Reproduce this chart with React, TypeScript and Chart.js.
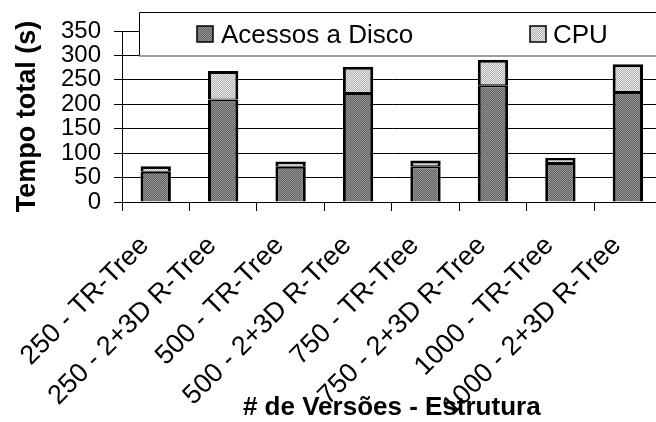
import { useEffect, useRef } from "react";
import { Chart, registerables } from "chart.js";

Chart.register(...registerables);

// Categories: number of versions - index structure
const categories = [
  "250 - TR-Tree",
  "250 - 2+3D R-Tree",
  "500 - TR-Tree",
  "500 - 2+3D R-Tree",
  "750 - TR-Tree",
  "750 - 2+3D R-Tree",
  "1000 - TR-Tree",
  "1000 - 2+3D R-Tree",
];

// Total time in seconds, split into disk access and CPU
const diskAccess = [62, 210, 72, 223, 73, 239, 80, 225];
const cpuTime = [11, 58, 11, 54, 12, 52, 10, 57];

const seriesLabels = ["Acessos a Disco", "CPU"];
const yMin = 0;
const yMax = 350;
const yStep = 50;

const FONT = "'Liberation Sans', Arial, Helvetica, sans-serif";

// Small two-tone checker used as a halftone-like fill
function dither(a: string, b: string): CanvasPattern | string {
  const c = document.createElement("canvas");
  c.width = 2;
  c.height = 2;
  const g = c.getContext("2d");
  if (!g) return a;
  g.fillStyle = a;
  g.fillRect(0, 0, 2, 2);
  g.fillStyle = b;
  g.fillRect(0, 0, 1, 1);
  g.fillRect(1, 1, 1, 1);
  return g.createPattern(c, "repeat") || a;
}

// Boxed legend that sits over the top of the plot
const boxedLegend = {
  id: "boxedLegend",
  afterDraw(chart: any) {
    const ctx = chart.ctx as CanvasRenderingContext2D;
    const x0 = 139;
    const y0 = 12;
    const h = 44;
    const x1 = chart.width + 2;
    ctx.save();
    ctx.fillStyle = "#fff";
    ctx.fillRect(x0, y0, x1 - x0, h);
    ctx.strokeStyle = "#000";
    ctx.lineWidth = 1;
    ctx.beginPath();
    ctx.moveTo(x0 + 0.5, y0 + h);
    ctx.lineTo(x0 + 0.5, y0 + 0.5);
    ctx.lineTo(x1, y0 + 0.5);
    ctx.stroke();
    ctx.strokeStyle = "#808080";
    ctx.lineWidth = 1.5;
    ctx.beginPath();
    ctx.moveTo(x0, y0 + h);
    ctx.lineTo(x1, y0 + h);
    ctx.stroke();

    const items = [
      { sx: 197, tx: 221 },
      { sx: 530, tx: 553 },
    ];
    ctx.font = `26px ${FONT}`;
    ctx.textBaseline = "alphabetic";
    ctx.textAlign = "left";
    chart.data.datasets.forEach((ds: any, i: number) => {
      const it = items[i];
      ctx.fillStyle = ds.backgroundColor;
      ctx.fillRect(it.sx, 26, 16, 16);
      ctx.strokeStyle = "#000";
      ctx.lineWidth = 1.5;
      ctx.strokeRect(it.sx, 26, 16, 16);
      ctx.fillStyle = "#000";
      ctx.fillText(ds.label, it.tx, 43);
    });
    ctx.restore();
  },
};

export default function App() {
  const canvasRef = useRef<HTMLCanvasElement | null>(null);

  useEffect(() => {
    const canvas = canvasRef.current;
    if (!canvas) return;
    Chart.defaults.color = "#000";
    Chart.defaults.font.family = FONT;

    const darkFill = dither("#606060", "#969696");
    const lightFill = dither("#b0b0b0", "#ebebeb");

    const chart = new Chart(canvas, {
      type: "bar",
      data: {
        labels: categories,
        datasets: [
          {
            label: seriesLabels[0],
            data: diskAccess,
            backgroundColor: darkFill as any,
            borderColor: "#000",
            borderWidth: { top: 2, left: 3, right: 3, bottom: 0 },
            borderSkipped: false,
            barPercentage: 0.45,
            categoryPercentage: 1,
          },
          {
            label: seriesLabels[1],
            data: cpuTime,
            backgroundColor: lightFill as any,
            borderColor: "#000",
            borderWidth: { top: 3, left: 3, right: 3, bottom: 1 },
            borderSkipped: false,
            barPercentage: 0.45,
            categoryPercentage: 1,
          },
        ],
      },
      plugins: [boxedLegend],
      options: {
        animation: false,
        responsive: false,
        devicePixelRatio: 1,
        layout: { padding: { top: 31, left: 0, right: 4, bottom: 0 } },
        plugins: {
          legend: { display: false },
          tooltip: { enabled: false },
        },
        scales: {
          x: {
            stacked: true,
            offset: true,
            grid: {
              display: true,
              offset: true,
              drawOnChartArea: false,
              drawTicks: true,
              tickLength: 9,
              color: "#000",
            },
            border: { display: true, color: "#000", width: 1 },
            ticks: {
              autoSkip: false,
              maxRotation: 45,
              minRotation: 45,
              padding: 19,
              labelOffset: -11,
              font: { size: 27, family: FONT },
              color: "#000",
            },
            title: {
              display: true,
              text: "# de Versões - Estrutura",
              font: { size: 26, weight: "bold", family: FONT, lineHeight: 1 },
              padding: { top: 0, bottom: 1 },
              color: "#000",
            },
            afterFit: (s: any) => {
              s.height = 220;
            },
          },
          y: {
            stacked: true,
            min: yMin,
            max: yMax,
            ticks: {
              stepSize: yStep,
              autoSkip: false,
              padding: 13,
              font: { size: 24, family: FONT },
              color: "#000",
            },
            grid: {
              color: "#000",
              lineWidth: 1,
              drawTicks: true,
              tickLength: 8,
            },
            border: { display: true, color: "#000", width: 1 },
            title: {
              display: true,
              text: "Tempo total (s)",
              font: { size: 27, weight: "bold", family: FONT, lineHeight: 1 },
              padding: { top: 14, bottom: 0 },
              color: "#000",
            },
            afterFit: (s: any) => {
              s.width = 122;
            },
          },
        },
      },
    });
    return () => chart.destroy();
  }, []);

  return (
    <div
      style={{
        position: "absolute",
        left: 0,
        top: 0,
        width: 656,
        height: 422,
        overflow: "hidden",
        background: "#fff",
      }}
    >
      <canvas ref={canvasRef} width={670} height={422} />
    </div>
  );
}
